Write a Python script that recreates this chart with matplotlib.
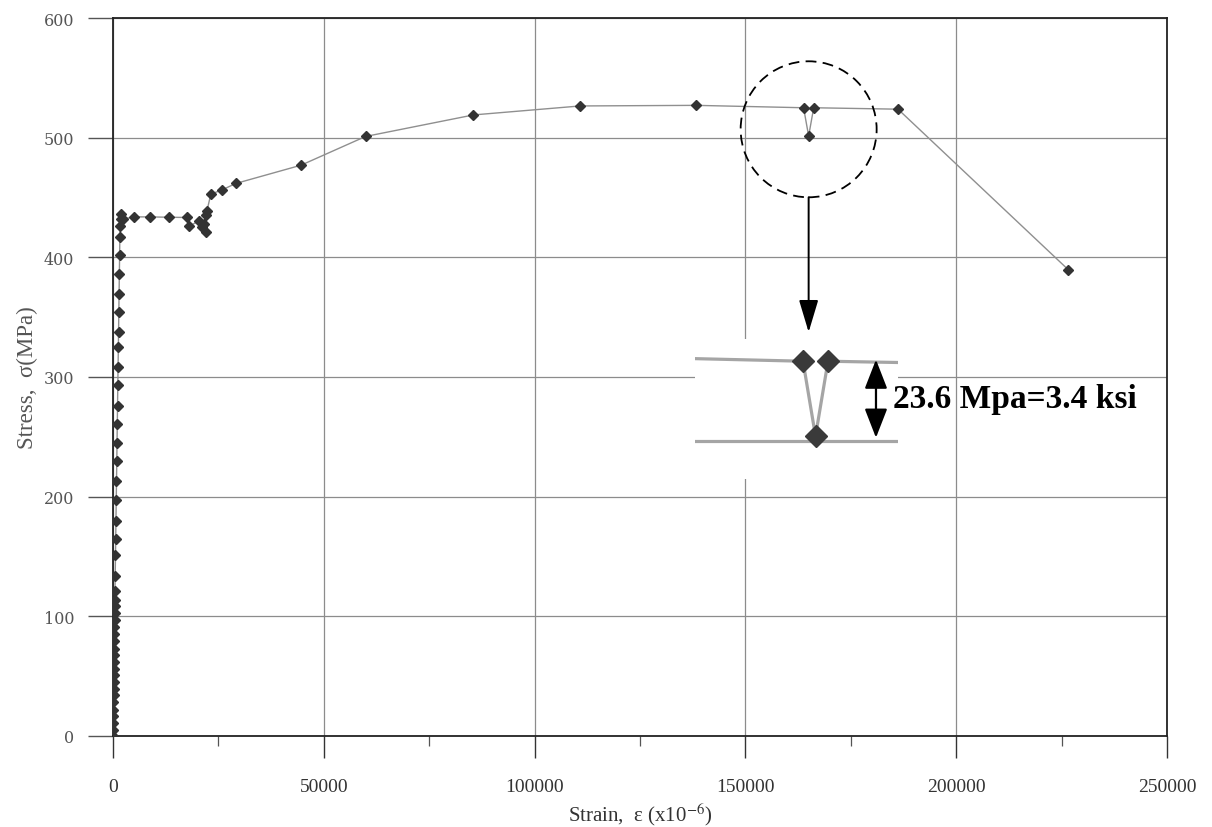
import matplotlib
matplotlib.use("Agg")
import matplotlib.pyplot as plt
from matplotlib.patches import Ellipse
from matplotlib.ticker import MultipleLocator

plt.rcParams["mathtext.fontset"] = "stix"

# Tensile test of a steel bar: strain (microstrain) vs stress (MPa)
plateau_top = 525.0          # stress just before the local dip (MPa)
dip_drop = 23.6              # size of the dip (MPa)

strain = [0, 20, 45, 65, 85, 110, 130, 150, 175, 200, 220, 240, 265, 285,
          310, 330, 355, 380, 400, 425, 445, 470, 520, 590, 645, 700, 770,
          830, 900, 955, 1020, 1075, 1140, 1200, 1270, 1320, 1380, 1440,
          1505, 1570, 1630, 1700, 1800, 1950, 2400,
          4990, 8700, 13300, 17600, 18000, 20500, 21000, 22000, 21600,
          22100, 22300, 23200, 25900, 29100, 44600, 59900, 85500, 110800,
          138300, 163800, 165000, 166200, 186200, 226600]
stress = [0, 5, 11, 17, 22, 28, 34, 39, 45, 51, 56, 62, 68, 73,
          79, 85, 91, 97, 103, 109, 114, 121, 134, 151, 165, 180, 197,
          213, 230, 245, 261, 276, 293, 308, 325, 338, 354, 369,
          386, 402, 417, 426, 432, 436, 432,
          433.8, 433.8, 433.5, 433.3, 426, 430.5, 425, 421, 428,
          435, 439, 452.8, 456.4, 461.7, 477, 501, 519, 526.5,
          527, plateau_top, plateau_top - dip_drop, plateau_top, 523.8, 389.6]

x_ticks = [0, 50000, 100000, 150000, 200000, 250000]
y_ticks = [0, 100, 200, 300, 400, 500, 600]
x_label = "Strain,  ε (x10$^{-6}$)"
y_label = "Stress,  σ(MPa)"
drop_text = "23.6 Mpa=3.4 ksi"

W, H = 1212, 828
fig = plt.figure(figsize=(W / 100, H / 100), dpi=100)
fig.patch.set_facecolor("white")

ax = fig.add_axes([113 / W, 1 - 737 / H, 1054 / W, 718 / H])
ax.plot(strain, stress, color="#8f8f8f", lw=1.0, marker="D", ms=4.6,
        mfc="#333333", mec="#333333", zorder=3)
ax.set_xlim(0, 250000)
ax.set_ylim(0, 600)

ax.set_xticks(x_ticks)
ax.set_xticklabels([str(v) for v in x_ticks], family="Liberation Serif",
                   fontsize=14, color="#333333")
ax.set_yticks(y_ticks)
ax.set_yticklabels([str(v) for v in y_ticks], family="DejaVu Serif",
                   fontsize=11.5, color="#555555")
ax.xaxis.set_minor_locator(MultipleLocator(25000))
ax.tick_params(axis="x", which="major", direction="out", length=16,
               width=1.0, pad=14, color="#333333")
ax.tick_params(axis="x", which="minor", direction="out", length=7,
               width=0.9, color="#555555")
ax.tick_params(axis="y", which="major", direction="out", length=18,
               width=1.0, pad=10, color="#555555")
ax.grid(True, which="major", color="#8c8c8c", lw=0.9)
ax.set_axisbelow(True)
for sp in ax.spines.values():
    sp.set_color("#222222")
    sp.set_linewidth(1.3)

ax.set_xlabel(x_label, family="Liberation Serif", fontsize=15,
              color="#333333", labelpad=4)
ax.set_ylabel(y_label, family="Liberation Serif", fontsize=16.5,
              color="#555555", labelpad=4)

# dashed circle around the dip and an arrow down to the magnified view
px_x = 1054 / 250000
px_y = 718 / 600
circ_cx, circ_cy, circ_r = 165000, 507, 68
ax.add_patch(Ellipse((circ_cx, circ_cy), width=2 * circ_r / px_x,
                     height=2 * circ_r / px_y, fill=False, ls=(0, (6, 3.5)),
                     lw=1.3, color="black", clip_on=False, zorder=4))
ax.annotate("", xy=(circ_cx, 337.5), xytext=(circ_cx, circ_cy - circ_r / px_y),
            arrowprops=dict(arrowstyle="-|>,head_length=1.0,head_width=0.3",
                            color="black", lw=1.4, shrinkA=0, shrinkB=0,
                            mutation_scale=20))

# magnified view of the dip
ax_in = fig.add_axes([695 / W, 1 - 480 / H, 203 / W, 140 / H])
ax_in.set_facecolor("white")
ax_in.plot(strain, stress, color="#a5a5a5", lw=2.3, marker="D", ms=11,
           mfc="#3a3a3a", mec="#3a3a3a", zorder=3)
ax_in.set_xlim(153430, 172920)
ax_in.set_ylim(plateau_top - dip_drop - 13.5, plateau_top + 7)
ax_in.set_xticks([])
ax_in.set_yticks([500])
ax_in.grid(axis="y", color="#a5a5a5", lw=2.3)
ax_in.set_axisbelow(True)
ax_in.tick_params(length=0, labelleft=False)
for sp in ax_in.spines.values():
    sp.set_visible(False)

arrow_x = 170806
ax_in.annotate("", xy=(arrow_x, plateau_top + 0.5),
               xytext=(arrow_x, plateau_top - dip_drop - 0.5),
               arrowprops=dict(arrowstyle="<|-|>,head_length=0.9,head_width=0.35",
                               color="black", lw=1.6, shrinkA=0, shrinkB=0,
                               mutation_scale=20),
               annotation_clip=False)
ax_in.text(172400, plateau_top - dip_drop / 2, drop_text, family="Liberation Serif",
           fontweight="bold", fontsize=24, color="black", va="center",
           ha="left", clip_on=False)

fig.savefig("out.png", dpi=100, facecolor="white")
